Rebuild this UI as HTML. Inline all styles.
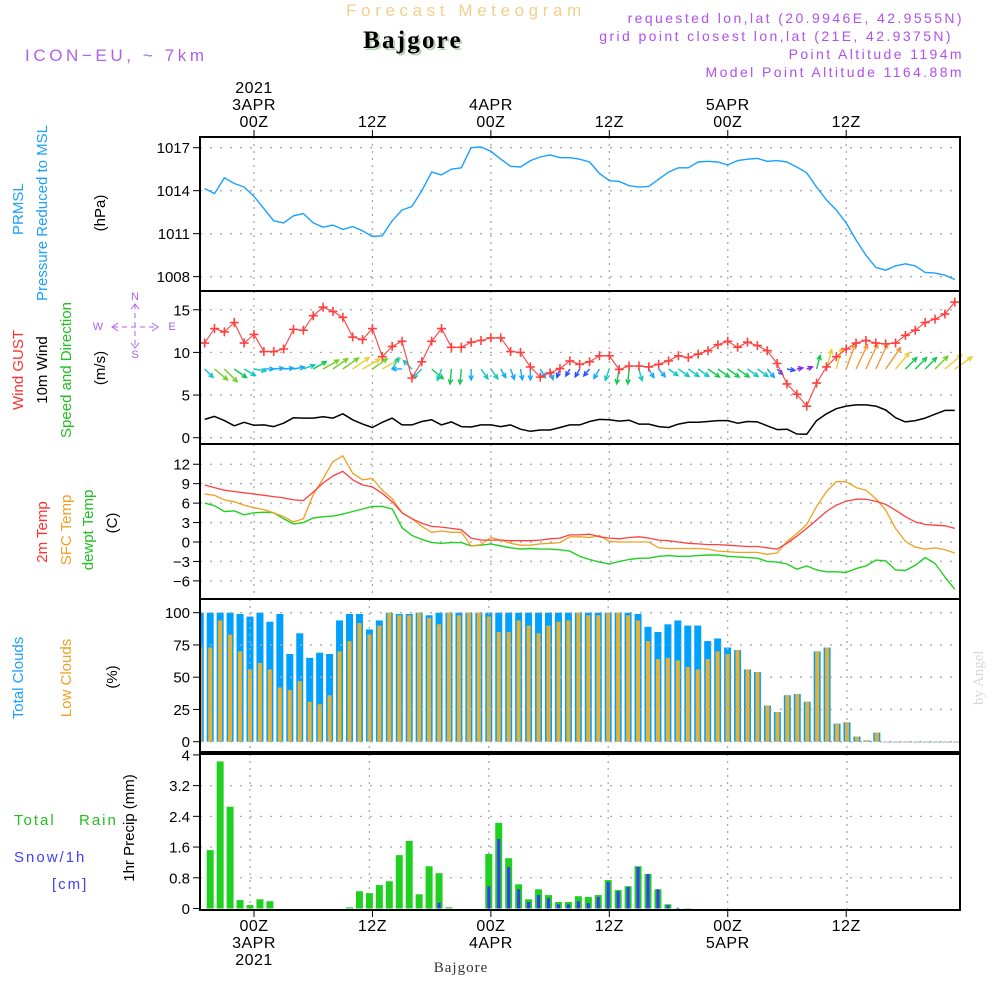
<!DOCTYPE html>
<html><head><meta charset="utf-8">
<style>
html,body{margin:0;padding:0;background:#fff;}
svg{display:block;font-family:"Liberation Sans",sans-serif;}
</style></head>
<body>
<svg id="chart" width="1000" height="1000" viewBox="0 0 1000 1000" xmlns="http://www.w3.org/2000/svg">
<rect x="0" y="0" width="1000" height="1000" fill="#fff"/>
<!-- header -->
<text x="466" y="16" text-anchor="middle" font-size="17" letter-spacing="4.6" fill="#f3cf8e">Forecast Meteogram</text>
<text x="415" y="50" text-anchor="middle" font-family="Liberation Serif,serif" font-weight="bold" font-size="25" letter-spacing="2.2" fill="#b8d0b8">Bajgore</text>
<text x="413" y="48" text-anchor="middle" font-family="Liberation Serif,serif" font-weight="bold" font-size="25" letter-spacing="2.2" fill="#000">Bajgore</text>
<text x="25" y="61" font-size="17" letter-spacing="3.6" fill="#b060e8">ICON−EU, ~ 7km</text>
<g font-size="14" letter-spacing="2.4" fill="#b050f0" text-anchor="end">
<text x="964" y="23">requested lon,lat (20.9946E, 42.9555N)</text>
<text x="953" y="41">grid point closest lon,lat (21E, 42.9375N)</text>
<text x="964" y="59">Point Altitude 1194m</text>
<text x="964" y="77">Model Point Altitude 1164.88m</text>
</g>
<text transform="translate(983,705) rotate(-90)" font-family="Liberation Serif,serif" font-size="15" fill="#d8d8d8">by Angel</text>
<text x="461" y="972" text-anchor="middle" font-family="Liberation Serif,serif" font-size="15" letter-spacing="1" fill="#333">Bajgore</text>

<!-- left labels -->
<g font-size="15">
<text transform="translate(23,235) rotate(-90)" fill="#1aa0ff">PRMSL</text>
<text transform="translate(47,213) rotate(-90)" text-anchor="middle" fill="#1aa0ff">Pressure Reduced to MSL</text>
<text transform="translate(105,213) rotate(-90)" text-anchor="middle" fill="#000">(hPa)</text>
<text transform="translate(23,370) rotate(-90)" text-anchor="middle" fill="#ff3030">Wind GUST</text>
<text transform="translate(47,370) rotate(-90)" text-anchor="middle" fill="#000">10m Wind</text>
<text transform="translate(71,370) rotate(-90)" text-anchor="middle" fill="#20c020">Speed and Direction</text>
<text transform="translate(105,368) rotate(-90)" text-anchor="middle" fill="#000">(m/s)</text>
<text transform="translate(47,532) rotate(-90)" text-anchor="middle" fill="#ff3030">2m Temp</text>
<text transform="translate(71,530) rotate(-90)" text-anchor="middle" fill="#f0a020">SFC Temp</text>
<text transform="translate(93,530) rotate(-90)" text-anchor="middle" fill="#20c020">dewpt Temp</text>
<text transform="translate(117,523) rotate(-90)" text-anchor="middle" fill="#000">(C)</text>
<text transform="translate(23,678) rotate(-90)" text-anchor="middle" fill="#1aa0ff">Total Clouds</text>
<text transform="translate(71,678) rotate(-90)" text-anchor="middle" fill="#f0a020">Low Clouds</text>
<text transform="translate(117,677) rotate(-90)" text-anchor="middle" fill="#000">(%)</text>
<text transform="translate(134,828) rotate(-90)" text-anchor="middle" fill="#000">1hr Precip (mm)</text>
<text x="14" y="825" font-size="15" letter-spacing="2" fill="#20c020">Total</text>
<text x="79" y="825" font-size="15" letter-spacing="2" fill="#20c020">Rain</text>
<text x="14" y="862" font-size="15" letter-spacing="2" fill="#4040ff">Snow/1h</text>
<text x="52" y="889" font-size="15" letter-spacing="2" fill="#4040ff">[cm]</text>
</g>
<!-- compass -->
<g fill="#b060e8" font-size="11">
<text x="135" y="300" text-anchor="middle">N</text>
<text x="135" y="358" text-anchor="middle">S</text>
<text x="98" y="330" text-anchor="middle">W</text>
<text x="172" y="330" text-anchor="middle">E</text>
<g stroke="#b060e8" stroke-width="1" fill="none">
<line x1="113" y1="327" x2="157" y2="327" stroke-dasharray="5,4"/>
<line x1="135" y1="304" x2="135" y2="348" stroke-dasharray="5,4"/>
<polyline points="118,323 112,327 118,331"/>
<polyline points="152,323 158,327 152,331"/>
<polyline points="131,309 135,304 139,309"/>
<polyline points="131,343 135,348 139,343"/>
</g>
</g>
<g id="plots"></g>
</svg>
<script>
// ---------- data (hours from 00Z 3APR, -5 .. 71) ----------
const hours = [];
for (let h = -5; h <= 71; h++) hours.push(h);
const pressure = [1014.15,1013.8,1014.9,1014.5,1014.26,1013.6,1012.75,1011.9,1011.75,1012.25,1012.4,1011.75,1011.45,1011.6,1011.3,1011.5,1011.2,1010.8,1010.85,1011.9,1012.65,1012.9,1014.0,1015.3,1015.1,1015.5,1015.6,1017.0,1017.05,1016.75,1016.2,1015.7,1015.65,1016.1,1016.35,1016.5,1016.3,1016.3,1016.2,1016.0,1015.2,1014.7,1014.65,1014.35,1014.25,1014.3,1014.8,1015.3,1015.6,1015.6,1016.0,1016.05,1016.0,1015.8,1016.1,1016.2,1016.25,1016.05,1016.1,1016.0,1015.65,1015.25,1014.25,1013.35,1012.65,1011.75,1010.55,1009.5,1008.65,1008.45,1008.75,1008.9,1008.75,1008.3,1008.25,1008.1,1007.8];
const gust = [11.1,12.8,12.4,13.5,11.1,12.1,10.1,10.1,10.4,12.7,12.6,14.3,15.3,14.8,14.1,11.8,11.5,12.8,9.5,10.7,11.3,7.0,8.9,11.3,12.8,10.6,10.6,11.2,11.4,11.7,11.7,10.1,10.0,8.3,7.1,7.6,8.1,9.0,8.6,8.9,9.6,9.6,8.0,8.4,8.4,8.3,8.6,9.0,9.6,9.4,9.8,10.2,10.9,11.3,10.6,11.2,10.8,10.2,8.7,6.3,5.1,3.7,6.4,8.3,9.5,10.4,11.1,11.4,11.1,11.0,11.1,12.0,12.6,13.5,13.9,14.5,15.9];
const wind10m = [2.15,2.5,2.0,1.4,1.8,1.45,1.5,1.3,1.7,2.35,2.3,2.3,2.45,2.3,2.8,2.1,1.6,1.2,1.8,2.3,1.5,1.5,1.9,2.1,1.5,1.85,1.3,1.25,1.5,1.5,1.3,1.5,1.0,0.75,0.9,0.9,1.2,1.5,1.5,1.9,2.15,2.1,1.95,2.05,1.6,1.6,1.3,1.2,1.6,1.8,1.8,1.9,2.0,2.0,1.7,1.9,1.85,1.4,0.95,1.0,0.43,0.4,2.0,2.8,3.4,3.7,3.85,3.85,3.7,3.25,2.35,1.85,2.0,2.3,2.75,3.2,3.2];
// direction the arrow points (degrees, 0 = east, 90 = north) and arrow speed
const windDir = [-45,-40,-45,-35,-30,-10,0,5,5,10,20,30,30,35,35,35,30,35,30,60,180,135,-135,-40,-110,-95,-95,-90,-55,-55,-60,-70,-80,-90,-60,-75,-110,-120,-120,-130,-120,-110,-100,-95,-75,-60,-50,-35,-35,-35,-35,-35,-35,-35,-35,-35,-35,-50,-45,-10,10,20,75,75,75,70,65,65,65,55,50,45,45,45,45,40,35];
const windArrow = [12,17,18,15,13,12,10,10,10,11,12,15,18,18,19,20,20,18,21,13,10,12,12,15,12,15,15,11,12,12,10,11,11,11,10,11,9,8,9,9,11,12,15,15,12,10,10,11.5,13,13,13,14,14,14,14,13,13,11,8,8,6,6,14,20,22,26,27,28,28,26,21,16,16,16,18,22,21];
const temp2m = [8.8,8.4,8.0,7.8,7.6,7.4,7.2,7.0,6.8,6.5,6.4,7.7,9.1,10.2,10.9,9.6,8.8,8.5,7.5,6.2,4.5,3.6,2.9,2.4,2.3,2.1,1.9,0.6,0.3,0.3,0.3,0.2,0.2,0.2,0.3,0.5,0.6,1.1,1.1,1.2,0.8,0.6,0.5,0.7,0.8,0.6,0.3,0.2,0.0,-0.2,-0.3,-0.4,-0.4,-0.5,-0.6,-0.7,-0.7,-0.9,-1.1,-0.2,0.9,2.1,3.4,4.7,5.7,6.3,6.6,6.6,6.3,5.8,4.9,3.9,3.1,2.7,2.6,2.5,2.1];
const tempSfc = [7.4,7.2,6.5,6.2,5.7,5.3,5.0,4.5,3.9,3.1,3.6,7.3,9.8,12.4,13.3,10.6,9.6,9.8,8.0,6.7,4.5,3.6,2.4,1.5,1.7,1.5,1.5,-0.6,-0.4,0.7,0.3,-0.2,-0.5,-0.5,-0.3,-0.2,-0.1,0.8,0.8,0.7,1.0,0.1,0,0,0,0,-0.9,-1.0,-1.0,-1.0,-1.0,-1.1,-1.4,-1.5,-1.6,-1.6,-1.6,-1.9,-1.7,0.1,1.3,2.7,5.5,7.8,9.3,9.3,8.4,8.0,6.7,4.9,2.1,0.1,-0.8,-1.1,-0.9,-1.2,-1.7];
const dewpt = [6.0,5.6,4.7,4.8,4.2,4.5,4.6,4.5,3.6,2.8,3.0,3.7,3.9,4.0,4.3,4.7,5.1,5.5,5.5,5.1,2.2,1.0,0.4,-0.1,-0.2,-0.1,-0.1,-0.6,-0.5,-0.3,-0.6,-0.9,-1.1,-1.0,-1.1,-1.1,-1.2,-1.4,-2.2,-2.7,-3.1,-3.4,-3.0,-2.7,-2.5,-2.5,-2.2,-2.1,-2.2,-2.2,-2.1,-2.0,-2.0,-2.2,-2.3,-2.4,-2.5,-3.0,-3.1,-3.4,-4.2,-3.7,-4.3,-4.6,-4.6,-4.7,-4.1,-3.7,-2.8,-2.9,-4.3,-4.4,-3.6,-2.4,-3.3,-5.4,-7.3];
const totalClouds = [100,100,100,100,99,97,100,93,99,68,84,65,69,68,94,99,99,87,94,100,99,99,100,98,100,100,100,100,100,100,100,100,100,100,100,100,100,100,100,100,100,100,100,100,99,89,85,91,94,90,90,78,80,73,71,56,54,28,23,36,37,31,70,73,14,15,4,1,7,0,0,0,0,0,0,0,0];
const lowClouds = [73,73,94,83,70,56,61,56,42,40,47,31,29,36,70,78,92,83,90,100,98,98,100,96,91,100,98,100,100,97,85,85,94,90,84,90,93,94,100,98,98,100,100,98,94,78,64,65,63,58,56,64,70,68,71,56,54,28,23,36,37,31,70,73,14,15,4,1,7,0,0,0,0,0,0,0,0];
const rain = [0,1.52,3.83,2.65,0.22,0.09,0.24,0.19,0,0,0,0,0,0,0,0.03,0.45,0.40,0.61,0.71,1.39,1.76,0.37,1.10,0.92,0.03,0,0,0,1.42,2.23,1.31,0.63,0.24,0.50,0.35,0.17,0.17,0.32,0.30,0.35,0.74,0.48,0.58,1.10,0.90,0.50,0.11,0,0.01,0,0,0,0,0,0,0,0,0,0,0,0,0,0,0,0,0,0,0,0,0,0,0,0,0,0,0];
const snow = [0,0,0,0,0,0,0,0,0,0,0,0,0,0,0,0,0,0,0,0,0,0,0,0.01,0.15,0,0,0,0,0.58,1.81,1.08,0.50,0.17,0.35,0.27,0.11,0.11,0.19,0.14,0.30,0.69,0.45,0.56,1.08,0.90,0.50,0.09,0.02,0,0,0,0,0,0,0,0,0,0,0,0,0,0,0,0,0,0,0,0,0,0,0,0,0,0,0];
const pressureTicks = [1008,1011,1014,1017];
const windTicks = [0,5,10,15];
const tempTicks = [-6,-3,0,3,6,9,12];
const cloudTicks = [0,25,50,75,100];
const precipTicks = [0,0.8,1.6,2.4,3.2,4];
const timeTicks = [0,12,24,36,48,60];
const timeTopLabels = [["2021","3APR","00Z"],["","","12Z"],["","4APR","00Z"],["","","12Z"],["","5APR","00Z"],["","","12Z"]];

// ---------- axes ----------
const L = 200, R = 960;
const X = h => 254 + h * 9.87;
const Xb = h => 250 + h * 9.95;
const yP = p => 147.7 + (1017 - p) * 14.33;
const yW = v => 437.7 - v * 8.53;
const yT = t => 542 - t * 6.48;
const yC = c => 741.7 - c * 1.29;
const yR = m => 908.5 - m * 38.4;

const NS = "http://www.w3.org/2000/svg";
const root = document.getElementById("plots");
function mk(tag, attrs, parent) {
  const e = document.createElementNS(NS, tag);
  for (const k in attrs) e.setAttribute(k, attrs[k]);
  (parent || root).appendChild(e);
  return e;
}
function grid(g, top, bot, xf, ticks, yf) {
  timeTicks.forEach(t => {
    const l = mk("line", {x1: xf(t), x2: xf(t), y1: top, y2: bot, stroke: "#aaa", "stroke-width": 1.3, "stroke-dasharray": "2,5"}, g);
    
    
  });
  ticks.forEach(v => {
    const y = yf(v);
    if (y > top + 2 && y < bot - 2) {
      const l = mk("line", {x1: L, x2: R, y1: y, y2: y, stroke: "#aaa", "stroke-width": 1.3, "stroke-dasharray": "2,8"}, g);
      
      
    }
  });
}
function yaxis(g, ticks, yf, fmt) {
  ticks.forEach(v => {
    const y = yf(v);
    mk("line", {x1: 193, x2: 200, y1: y, y2: y, stroke: "#000", "stroke-width": 1}, g);
    const t = mk("text", {x: 190, y: y + 5.5, "text-anchor": "end", "font-size": 15, fill: "#000"}, g);
    
    
    t.textContent = fmt ? fmt(v) : String(v).replace("-", "−");
  });
}
function frame(g, top, bot) {
  const r = mk("rect", {x: L, y: top, width: R - L, height: bot - top, fill: "none", stroke: "#000", "stroke-width": 2}, g);
  
  
}
function polyline(g, xs, vals, yf, color, w) {
  const pts = vals.map((v, i) => X(hours[i]).toFixed(1) + "," + yf(v).toFixed(1)).join(" ");
  return mk("polyline", {points: pts, fill: "none", stroke: color, "stroke-width": w || 1.3, "stroke-linejoin": "round"}, g);
}

// ---------- pressure panel ----------
const gP = mk("g", {});


grid(gP, 137, 291, X, pressureTicks, yP);
yaxis(gP, pressureTicks, yP);
const pl = polyline(gP, hours, pressure, yP, "#1aa0ff", 1.4);


frame(gP, 137, 291);
timeTicks.forEach((t, i) => {
  mk("line", {x1: X(t), x2: X(t), y1: 130, y2: 137, stroke: "#000"}, gP);
  const labs = timeTopLabels[i];
  labs.forEach((s, j) => {
    if (!s) return;
    const tx = mk("text", {x: X(t), y: 93 + j * 17, "text-anchor": "middle", "font-size": 16, "letter-spacing": 0.5, fill: "#000"}, gP);
    
    
    tx.textContent = s;
  });
});

// ---------- wind panel ----------
const gW = mk("g", {});


grid(gW, 291, 444, X, windTicks, yW);
yaxis(gW, windTicks, yW);
const wl = polyline(gW, hours, wind10m, yW, "#000", 1.5);


function arrowColor(s) {
  if (s < 7) return "#8a20f0";
  if (s < 10) return "#2a50ff";
  if (s < 11.5) return "#10a8ff";
  if (s < 13.5) return "#10c8c0";
  if (s < 17) return "#10c850";
  if (s < 19.5) return "#70d020";
  if (s < 23) return "#e8d030";
  return "#f09838";
}
hours.forEach((h, i) => {
  const x0 = X(h), y0 = 369;
  const a = windDir[i] * Math.PI / 180, len = windArrow[i];
  const x1 = x0 + Math.cos(a) * len, y1 = y0 - Math.sin(a) * len;
  const c = arrowColor(len);
  const g = mk("g", {stroke: c, "stroke-width": 1.4, fill: "none"}, gW);
  
  
  mk("line", {x1: x0, y1: y0, x2: x1, y2: y1}, g);
  const hl = 5, ha = 0.45;
  const b = Math.atan2(y1 - y0, x1 - x0);
  mk("polyline", {points: `${x1 - hl * Math.cos(b - ha)},${y1 - hl * Math.sin(b - ha)} ${x1},${y1} ${x1 - hl * Math.cos(b + ha)},${y1 - hl * Math.sin(b + ha)}`}, g);
});
const gl = polyline(gW, hours, gust, yW, "#ff4040", 1.1);


hours.forEach((h, i) => {
  const x = X(h), y = yW(gust[i]);
  const m = mk("path", {d: `M${x - 4.5},${y}H${x + 4.5}M${x},${y - 4.5}V${y + 4.5}`, stroke: "#ff4040", "stroke-width": 1.6}, gW);
  
  
});
frame(gW, 291, 444);

// ---------- temperature panel ----------
const gT = mk("g", {});


grid(gT, 444, 599, X, tempTicks, yT);
yaxis(gT, tempTicks, yT);
const tl3 = polyline(gT, hours, dewpt, yT, "#20d020", 1.4);


const tl2 = polyline(gT, hours, tempSfc, yT, "#f0a020", 1.3);


const tl1 = polyline(gT, hours, temp2m, yT, "#ff4040", 1.3);


frame(gT, 444, 599);

// ---------- cloud panel ----------
const gC = mk("g", {});


const clipC = mk("clipPath", {id: "clipC"}, gC);
mk("rect", {x: L, y: 599, width: R - L, height: 153}, clipC);
const gCb = mk("g", {"clip-path": "url(#clipC)"}, gC);
hours.forEach((h, i) => {
  const x = Xb(h);
  const tb = mk("rect", {x: x - 3.5, y: yC(totalClouds[i]), width: 7, height: Math.max(0.8, yC(0) - yC(totalClouds[i])), fill: "#00a0ff"}, gCb);
  
  
  const lb = mk("rect", {x: x - 2, y: yC(lowClouds[i]), width: 4, height: Math.max(0.8, yC(0) - yC(lowClouds[i])), fill: "#e8b030"}, gCb);
  
  
});
grid(gC, 599, 752, Xb, cloudTicks, yC);
yaxis(gC, cloudTicks, yC);
frame(gC, 599, 752);

// ---------- precip panel ----------
const gR = mk("g", {});


grid(gR, 754, 910, Xb, precipTicks, yR);
hours.forEach((h, i) => {
  const x = Xb(h);
  if (rain[i] > 0) {
    const rb = mk("rect", {x: x - 3.5, y: yR(rain[i]), width: 7, height: yR(0) - yR(rain[i]), fill: "#20d020"}, gR);
    
    
  }
  if (snow[i] > 0) {
    const sb = mk("rect", {x: x - 1.5, y: yR(snow[i]), width: 3, height: yR(0) - yR(snow[i]), fill: "#3838ff"}, gR);
    
    
  }
});
yaxis(gR, precipTicks, yR, v => v === 0 || v === 4 ? String(v) : v.toFixed(1));
frame(gR, 754, 910);
const botLabels = [["00Z","3APR","2021"],["12Z","",""],["00Z","4APR",""],["12Z","",""],["00Z","5APR",""],["12Z","",""]];
timeTicks.forEach((t, i) => {
  mk("line", {x1: X(t), x2: X(t), y1: 910, y2: 917, stroke: "#000"}, gR);
  botLabels[i].forEach((s, j) => {
    if (!s) return;
    const tx = mk("text", {x: X(t), y: 931 + j * 17, "text-anchor": "middle", "font-size": 16, "letter-spacing": 0.5, fill: "#000"}, gR);
    
    
    tx.textContent = s;
  });
});
</script>
</body></html>
